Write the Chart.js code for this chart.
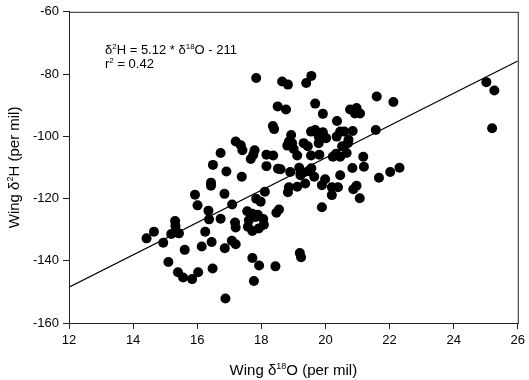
<!DOCTYPE html>
<html>
<head>
<meta charset="utf-8">
<script src="https://cdn.jsdelivr.net/npm/chart.js@4"></script>
<style>
  html, body { margin: 0; padding: 0; background: #fff; }
  #wrap { width: 529px; height: 380px; }
</style>
</head>
<body>
<div id="wrap"><canvas id="chart"></canvas></div>
<script>
// Wing d18O values (per mil)
const wingO = [
  14.42, 14.65, 14.94, 15.10, 15.19, 15.31, 15.32, 15.43, 15.40, 15.56,
  15.61, 15.84, 15.93, 16.01, 16.03, 16.14, 16.25, 16.35, 16.37, 16.43,
  16.43, 16.45, 16.48, 16.49, 16.73, 16.73, 16.85, 16.86, 16.88, 16.91,
  17.09, 17.08, 17.18, 17.20, 17.20, 17.20, 17.36, 17.41, 17.39, 17.67,
  17.75, 17.79, 17.84, 17.84, 17.98, 17.72, 17.93, 17.77, 17.56, 17.72,
  17.89, 18.06, 18.08, 17.92, 17.72, 17.58, 17.61, 17.82, 18.11, 18.16,
  18.37, 18.16, 18.36, 18.40, 18.51, 18.52, 18.60, 18.55, 18.47, 18.44,
  18.65, 18.83, 18.77, 18.93, 18.86, 18.81, 18.96, 19.01, 18.90, 18.86,
  18.83, 19.12, 19.18, 19.22, 19.12, 19.30, 19.47, 19.56, 19.37, 19.65,
  19.32, 19.45, 19.55, 19.81, 19.55, 19.68, 19.79, 19.79, 19.92, 19.92,
  19.40, 19.56, 19.68, 19.92, 19.89, 19.89, 19.20, 19.24, 19.99, 20.02,
  20.20, 20.20, 20.23, 20.33, 20.35, 20.36, 20.39, 20.46, 20.46, 20.46,
  20.52, 20.59, 20.66, 20.70, 20.72, 20.77, 20.84, 20.85, 20.87, 20.92,
  20.97, 20.97, 21.08, 21.07, 21.18, 21.20, 21.57, 21.60, 21.67, 22.02,
  22.12, 22.31, 25.02, 25.27, 25.20
];

// Wing d2H values (per mil), same order
const wingH = [
  -132.8, -130.7, -134.2, -140.4, -131.4, -127.2, -128.8, -131.2, -143.7, -145.4,
  -136.5, -145.9, -118.8, -122.2, -143.7, -135.4, -130.7, -123.9, -126.7, -114.9,
  -115.9, -134.0, -142.5, -109.2, -105.4, -126.5, -118.5, -136.0, -152.1, -111.3,
  -121.9, -133.6, -127.7, -129.3, -134.7, -101.7, -102.9, -104.5, -113.0, -107.3,
  -105.9, -104.5, -81.3, -120.1, -121.0, -139.1, -141.5, -146.5, -124.1, -124.9,
  -125.2, -126.6, -128.4, -129.6, -130.4, -129.1, -127.0, -125.9, -117.8, -105.9,
  -106.2, -109.6, -96.7, -97.7, -90.4, -110.4, -110.6, -123.5, -124.6, -141.8,
  -82.4, -83.4, -91.4, -99.6, -101.7, -103.0, -102.2, -104.1, -111.5, -116.4,
  -118.0, -106.2, -110.1, -112.5, -116.2, -111.7, -111.2, -110.3, -115.2, -113.0,
  -102.2, -103.2, -106.2, -105.9, -98.5, -98.0, -100.1, -102.2, -98.7, -100.1,
  -82.9, -80.6, -89.5, -92.8, -115.7, -122.8, -137.5, -138.9, -113.8, -100.6,
  -116.4, -118.9, -106.6, -105.6, -100.1, -95.1, -116.4, -98.5, -106.6, -112.5,
  -103.2, -98.5, -105.4, -102.2, -101.1, -91.4, -110.2, -98.3, -117.0, -92.7,
  -90.9, -115.9, -92.7, -119.9, -106.6, -109.8, -98.0, -87.2, -113.3, -111.5,
  -89.0, -110.1, -82.6, -85.3, -97.4
];

// Regression line end points (as drawn)
const fitX = [12, 26];
const fitY = [-148.5, -75.8];

const xTicks = [12, 14, 16, 18, 20, 22, 24, 26];
const yTicks = [-160, -140, -120, -100, -80, -60];

const FONT = 'Arial, "Liberation Sans", sans-serif';

// texto con superindices: [[texto, esSup], ...]
function drawRich(ctx, parts, x, y, size, align) {
  const supSize = Math.round(size * 0.62);
  let total = 0;
  parts.forEach(([t, sup]) => {
    ctx.font = (sup ? supSize : size) + 'px ' + FONT;
    total += ctx.measureText(t).width;
  });
  let cx = align === 'center' ? x - total / 2 : x;
  ctx.textAlign = 'left';
  ctx.textBaseline = 'alphabetic';
  parts.forEach(([t, sup]) => {
    ctx.font = (sup ? supSize : size) + 'px ' + FONT;
    ctx.fillText(t, cx, sup ? y - size * 0.42 : y);
    cx += ctx.measureText(t).width;
  });
}

const extras = {
  id: 'extras',
  afterDraw(chart) {
    const ctx = chart.ctx;
    const a = chart.chartArea;
    ctx.save();
    ctx.strokeStyle = '#222';
    ctx.lineWidth = 1;
    ctx.strokeRect(a.left + 0.5, a.top + 0.5, a.right - a.left, a.bottom - a.top);
    ctx.fillStyle = '#000';

    // ecuacion
    drawRich(ctx, [['δ', 0], ['2', 1], ['H = 5.12 * δ', 0], ['18', 1], ['O - 211', 0]], 105, 54, 13, 'left');
    drawRich(ctx, [['r', 0], ['2', 1], [' = 0.42', 0]], 105, 68, 13, 'left');

    // titulo eje x
    drawRich(ctx, [['Wing δ', 0], ['18', 1], ['O (per mil)', 0]], (a.left + a.right) / 2, 375, 15, 'center');

    // titulo eje y
    ctx.translate(19, (a.top + a.bottom) / 2);
    ctx.rotate(-Math.PI / 2);
    drawRich(ctx, [['Wing δ', 0], ['2', 1], ['H (per mil)', 0]], 0, 0, 15, 'center');
    ctx.restore();
  }
};

new Chart(document.getElementById('chart'), {
  type: 'scatter',
  data: {
    datasets: [
      {
        data: wingO.map((x, i) => ({ x: x, y: wingH[i] })),
        backgroundColor: '#000',
        borderWidth: 0,
        pointRadius: 5,
        pointHoverRadius: 5
      },
      {
        type: 'line',
        data: fitX.map((x, i) => ({ x: x, y: fitY[i] })),
        borderColor: '#000',
        borderWidth: 1.2,
        pointRadius: 0,
        fill: false
      }
    ]
  },
  options: {
    responsive: true,
    maintainAspectRatio: false,
    animation: false,
    layout: { padding: { left: 0, right: 8, top: 7, bottom: 0 } },
    plugins: {
      legend: { display: false },
      tooltip: { enabled: false }
    },
    scales: {
      x: {
        type: 'linear',
        min: 12,
        max: 26,
        afterBuildTicks: s => { s.ticks = xTicks.map(v => ({ value: v })); },
        afterFit: s => { s.height = 57; },
        ticks: { color: '#000', font: { size: 13, family: FONT }, padding: 4, maxRotation: 0 },
        grid: { drawOnChartArea: false, drawTicks: true, tickLength: 6, color: '#222' },
        border: { display: true, color: '#222', width: 1 }
      },
      y: {
        type: 'linear',
        min: -160,
        max: -60,
        afterBuildTicks: s => { s.ticks = yTicks.map(v => ({ value: v })); },
        afterFit: s => { s.width = 69; },
        ticks: { color: '#000', font: { size: 13, family: FONT }, padding: 4 },
        grid: { drawOnChartArea: false, drawTicks: true, tickLength: 6, color: '#222' },
        border: { display: true, color: '#222', width: 1 }
      }
    }
  },
  plugins: [extras]
});
</script>
</body>
</html>
